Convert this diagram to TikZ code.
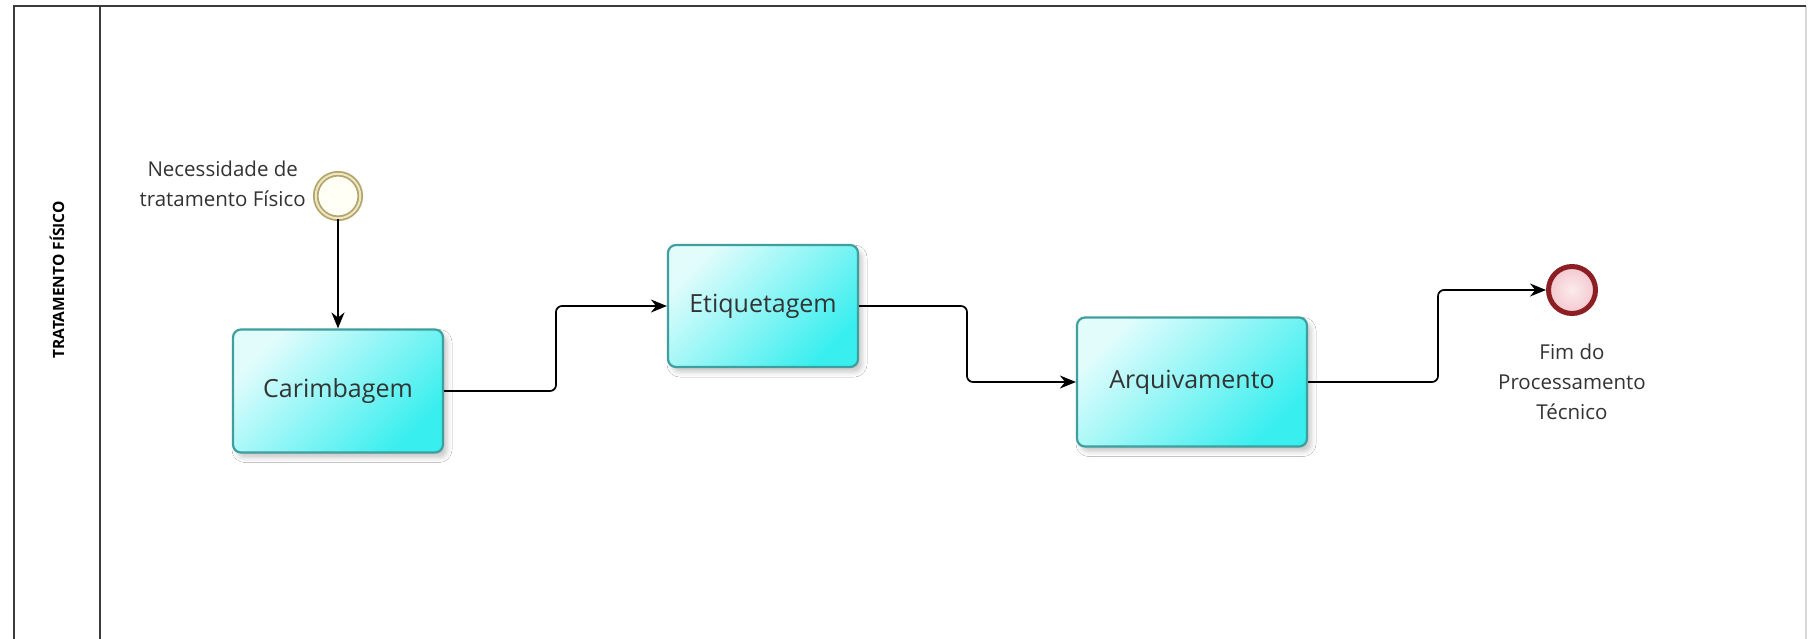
\documentclass[tikz,border=0pt]{standalone}
\usepackage{fontspec}
\setmainfont{Open Sans}
\usetikzlibrary{arrows.meta,shadows.blur,calc}
\definecolor{lanec}{HTML}{3C3C3C}
\definecolor{lanefaint}{HTML}{D8D8D8}
\definecolor{txt}{HTML}{333333}
\definecolor{taskbd}{HTML}{3F9E9E}
\definecolor{tasklt}{HTML}{E2FCFC}
\definecolor{taskmid}{HTML}{B6F7F7}
\definecolor{taskdk}{HTML}{38EEEE}
\definecolor{startc}{HTML}{B3A56A}
\definecolor{startlt}{HTML}{EDE6C4}
\definecolor{startfill}{HTML}{FFFFF6}
\definecolor{endc}{HTML}{8C1F24}
\definecolor{endin}{HTML}{FBEAEC}
\definecolor{endout}{HTML}{F3C8CF}
\begin{document}
\begin{tikzpicture}[x=1pt,y=-1pt,
  lane/.style={draw=lanec, line width=2pt},
  lanelight/.style={draw=lanefaint, line width=1.2pt},
  task/.style={draw=taskbd, line width=2.2pt, rounded corners=8pt,
    top color=tasklt, middle color=taskmid, bottom color=taskdk, shading angle=45,
    text=txt, font=\fontsize{25}{30}\selectfont, inner sep=0pt,
    blur shadow={shadow xshift=4pt, shadow yshift=-5pt, shadow opacity=22, shadow blur radius=5pt}},
  startev/.style={circle, draw=startc, line width=1.8pt, double=startlt,
    double distance=2pt, fill=startfill, minimum size=44.5pt, inner sep=0pt},
  endev/.style={circle, draw=endc, line width=5pt, inner color=endin, outer color=endout,
    minimum size=47pt, inner sep=0pt},
  evlabel/.style={text=txt, align=center, font=\fontsize{20.5}{30}\selectfont, inner sep=0pt},
  flow/.style={draw=black, line width=1.7pt, rounded corners=6pt,
    -{Stealth[length=16pt,width=13pt]}}
]
\useasboundingbox (0,0) rectangle (1809,638);
\clip (0,0) rectangle (1809,638);
\fill[white] (0,0) rectangle (1809,638);

% pool / lane
\coordinate (tl) at (14,6);
\coordinate (tr) at (1806,6);
\coordinate (bl) at (14,650);
\coordinate (br) at (1806,650);
\coordinate (ht) at (100,6);
\coordinate (hb) at (100,650);
\draw[lanelight] (tr) -- (br);
\draw[lane] (bl) -- (tl) -- (tr);
\draw[lane] (ht) -- (hb);
\node[rotate=90, font=\bfseries\fontsize{15.5}{16}\selectfont, text=black, inner sep=0pt] (lanelbl) at (57,280) {TRATAMENTO FÍSICO};

% events and tasks
\node[startev] (s) at (338,196) {};
\node[evlabel, anchor=east] (slbl) at (306,184) {Necessidade de\\tratamento Físico};

\node[task, minimum width=210pt, minimum height=123pt] (c) at (338,391) {Carimbagem};
\node[task, minimum width=190pt, minimum height=122pt] (e) at (763,306) {Etiquetagem};
\node[task, minimum width=230pt, minimum height=129pt] (a) at (1192,382) {Arquivamento};

\node[endev] (f) at (1572,290) {};
\node[evlabel] (flbl) at (1572,382) {Fim do\\Processamento\\Técnico};

% junction coordinates
\coordinate (j1) at (556,0);
\coordinate (j2) at (967,0);
\coordinate (j3) at (1438,0);

% connectors
\draw[flow] (s.south) -- (c.north);
\draw[flow] (c.east) -| (j1 |- e.west) -- (e.west);
\draw[flow] (e.east) -| (j2 |- a.west) -- (a.west);
\draw[flow] (a.east) -| (j3 |- f.west) -- (f.west);
\end{tikzpicture}
\end{document}
